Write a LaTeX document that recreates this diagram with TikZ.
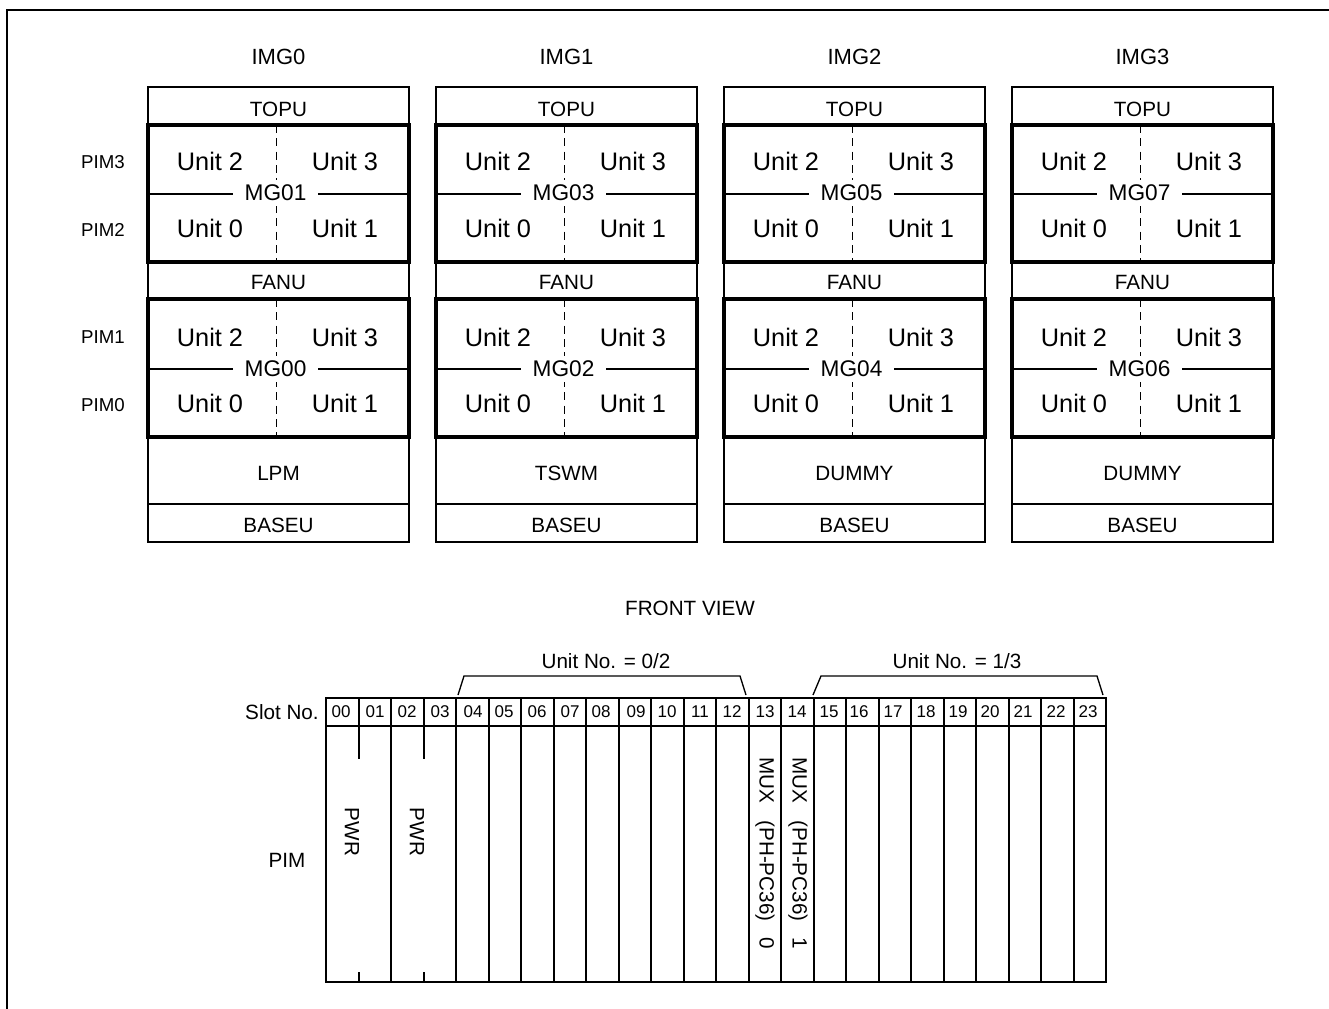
\documentclass[tikz,border=0pt]{standalone}
\usepackage{fontspec}
\setmainfont{Liberation Sans}
\begin{document}
\begin{tikzpicture}[x=0.75pt,y=-0.75pt,
  lbl/.style={font=\fontsize{15.5}{18}\selectfont, inner sep=0pt},
  ttl/.style={font=\fontsize{16.5}{19}\selectfont, inner sep=0pt},
  pimlbl/.style={font=\fontsize{14}{16}\selectfont, inner sep=0pt},
  unitlbl/.style={font=\fontsize{19}{22}\selectfont, inner sep=0pt},
  mglbl/.style={font=\fontsize{17}{20}\selectfont, fill=white, inner xsep=9pt, inner ysep=4pt},
  slotnum/.style={font=\fontsize{12.75}{15}\selectfont, inner sep=0pt},
  cab/.style={line width=1.5pt},
  mgbox/.style={line width=2.4pt},
  slotline/.style={line width=1.5pt},
  brk/.style={line width=1pt},
  frame/.style={line width=1.9pt},
  dsh/.style={line width=1.4pt, dash pattern=on 6pt off 4pt}]
\useasboundingbox (0,0) rectangle (1329,1008);
% outer frame
\draw[frame] (7,1015) -- (7,10) -- (1335,10);

% cabinets
\foreach \i/\mgA/\mgB/\mid in {0/01/00/LPM, 1/03/02/TSWM, 2/05/04/DUMMY, 3/07/06/DUMMY} {
  \pgfmathsetmacro\L{148+288*\i}
  \pgfmathsetmacro\C{\L+130.5}
  \pgfmathsetmacro\R{\L+261}
  \node[ttl] (img\i) at (\C,57) {IMG\i};
  \draw[cab] (\L,87) rectangle (\R,542);
  \draw[cab] (\L,504) -- (\R,504);
  \draw[cab] (\L,194) -- (\R,194);
  \draw[cab] (\L,369) -- (\R,369);
  \draw[dsh] (\C-2,125) -- (\C-2,262);
  \draw[dsh] (\C-2,299) -- (\C-2,437);
  \draw[mgbox] (\L,125) rectangle (\R,262);
  \draw[mgbox] (\L,299) rectangle (\R,437);
  \node[lbl] (topu\i) at (\C,109) {TOPU};
  \node[lbl] (fanu\i) at (\C,282) {FANU};
  \node[lbl] (mid\i) at (\C,473) {\mid};
  \node[lbl] (baseu\i) at (\C,525) {BASEU};
  \node[mglbl] (mgu\i) at (\C-3,193) {MG\mgA};
  \node[mglbl] (mgl\i) at (\C-3,369) {MG\mgB};
  \node[unitlbl] (ua2\i) at (\L+62,161) {Unit 2};
  \node[unitlbl] (ua3\i) at (\L+197,161) {Unit 3};
  \node[unitlbl] (ua0\i) at (\L+62,228) {Unit 0};
  \node[unitlbl] (ua1\i) at (\L+197,228) {Unit 1};
  \node[unitlbl] (ub2\i) at (\L+62,337) {Unit 2};
  \node[unitlbl] (ub3\i) at (\L+197,337) {Unit 3};
  \node[unitlbl] (ub0\i) at (\L+62,403) {Unit 0};
  \node[unitlbl] (ub1\i) at (\L+197,403) {Unit 1};
}
\node[pimlbl] (pim3) at (103,162) {PIM3};
\node[pimlbl] (pim2) at (103,230) {PIM2};
\node[pimlbl] (pim1) at (103,337) {PIM1};
\node[pimlbl] (pim0) at (103,405) {PIM0};

% front view
\node[lbl] (front) at (690,608) {FRONT VIEW};
\node[lbl] (u02) at (606,661) {Unit No. = 0/2};
\node[lbl] (u13) at (957,661) {Unit No. = 1/3};
\draw[brk] (458,695) -- (464,676) -- (740,676) -- (746,695);
\draw[brk] (813,695) -- (821,676) -- (1097,676) -- (1103,695);
\node[lbl,anchor=east] (slotno) at (319,712) {Slot No.};
\node[lbl] (pim) at (287,860) {PIM};

\draw[slotline] (326,698) rectangle (1106,982);
\draw[slotline] (326,726) -- (1106,726);
\foreach \k in {1,...,23} {
  \draw[slotline] (326+32.5*\k,698) -- (326+32.5*\k,726);
}
\foreach \k in {2,4,5,...,23} {
  \draw[slotline] (326+32.5*\k,726) -- (326+32.5*\k,982);
}
\foreach \k in {1,3} {
  \draw[slotline] (326+32.5*\k,726) -- (326+32.5*\k,759);
  \draw[slotline] (326+32.5*\k,972) -- (326+32.5*\k,982);
}
\foreach \n/\x in {00/341,01/375,02/407,03/440,04/473,05/504,06/537,07/570,08/601,09/636,10/667,11/700,12/732,13/765,14/797,15/829,16/859,17/893,18/926,19/958,20/990,21/1023,22/1056,23/1088} {
  \node[slotnum] (s\n) at (\x,712) {\n};
}
\node[lbl,rotate=-90] (pwr0) at (352,832) {PWR};
\node[lbl,rotate=-90] (pwr1) at (417,832) {PWR};
\node[lbl,rotate=-90,anchor=west] (mux0) at (765,757) {MUX\hspace{13pt}(PH-PC36)\hspace{12pt}0};
\node[lbl,rotate=-90,anchor=west] (mux1) at (798,757) {MUX\hspace{13pt}(PH-PC36)\hspace{12pt}1};
\end{tikzpicture}
\end{document}
